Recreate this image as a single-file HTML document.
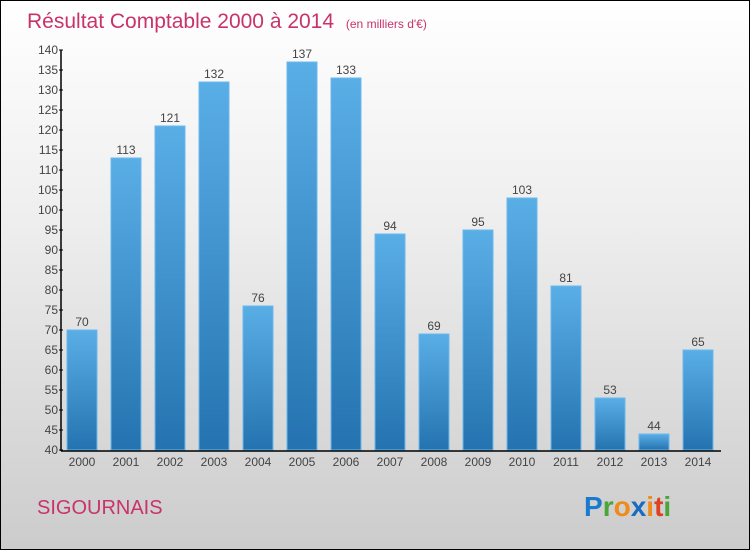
<!DOCTYPE html>
<html><head><meta charset="utf-8"><style>
body{margin:0;}
#wrap{position:relative;width:748px;height:548px;border:1px solid #000;background:linear-gradient(#fff 0%,#eee 40%,#ccc 100%);font-family:"Liberation Sans",sans-serif;overflow:hidden}
svg{position:absolute;left:0;top:0}
</style></head><body>
<div id="wrap">
<svg id="c" width="748" height="548">
<defs><linearGradient id="g" x1="0" y1="0" x2="0" y2="1"><stop offset="0" stop-color="#5aaee6"/><stop offset="1" stop-color="#2473b0"/></linearGradient></defs>
<text x="26" y="27" font-size="21" fill="#c8336a">Résultat Comptable 2000 à 2014 <tspan font-size="12" dx="6">(en milliers d'€)</tspan></text>
<text x="36" y="513" font-size="20" fill="#c8336a">SIGOURNAIS</text>
<text x="583" y="515" font-size="28" font-weight="bold"><tspan fill="#1a7ad0">P</tspan><tspan fill="#4aa53a">r</tspan><tspan fill="#f08a1c">o</tspan><tspan fill="#1a6ac0">x</tspan><tspan fill="#f08a1c">i</tspan><tspan fill="#e04020">t</tspan><tspan fill="#4aa53a">i</tspan></text>
<g id="plot"></g>
</svg>
</div>
<script>
const years=["2000","2001","2002","2003","2004","2005","2006","2007","2008","2009","2010","2011","2012","2013","2014"];
const values=[70,113,121,132,76,137,133,94,69,95,103,81,53,44,65];
const yTicks=[40,45,50,55,60,65,70,75,80,85,90,95,100,105,110,115,120,125,130,135,140];
const NS="http://www.w3.org/2000/svg";
const g=document.getElementById('plot');
const y=v=>449-(v-40)*4;
const x=i=>81+i*44;
function mk(t,a){const e=document.createElementNS(NS,t);for(const k in a)e.setAttribute(k,a[k]);g.appendChild(e);return e;}
years.forEach((yr,i)=>{
 const r=mk('rect',{x:x(i)-15,y:y(values[i]),width:30,height:449-y(values[i]),fill:'url(#g)',stroke:'#6bb8ee','stroke-width':1});
 
 
 const v=mk('text',{x:x(i),y:y(values[i])-4,'font-size':12,fill:'#444','text-anchor':'middle'});v.textContent=values[i];
 
 
 const l=mk('text',{x:x(i),y:465,'font-size':12,fill:'#444','text-anchor':'middle'});l.textContent=yr;
 
 
});
yTicks.forEach(t=>{
 mk('line',{x1:58,x2:62,y1:y(t),y2:y(t),stroke:'#000'});
 const l=mk('text',{x:57,y:y(t)+4,'font-size':12,fill:'#444','text-anchor':'end'});l.textContent=t;
 
 
});
const ya=mk('line',{x1:60,x2:60,y1:y(140),y2:450,stroke:'#000','stroke-width':1.5});


const xa=mk('line',{x1:60,x2:720,y1:450,y2:450,stroke:'#000','stroke-width':1.5});


</script>
</body></html>
